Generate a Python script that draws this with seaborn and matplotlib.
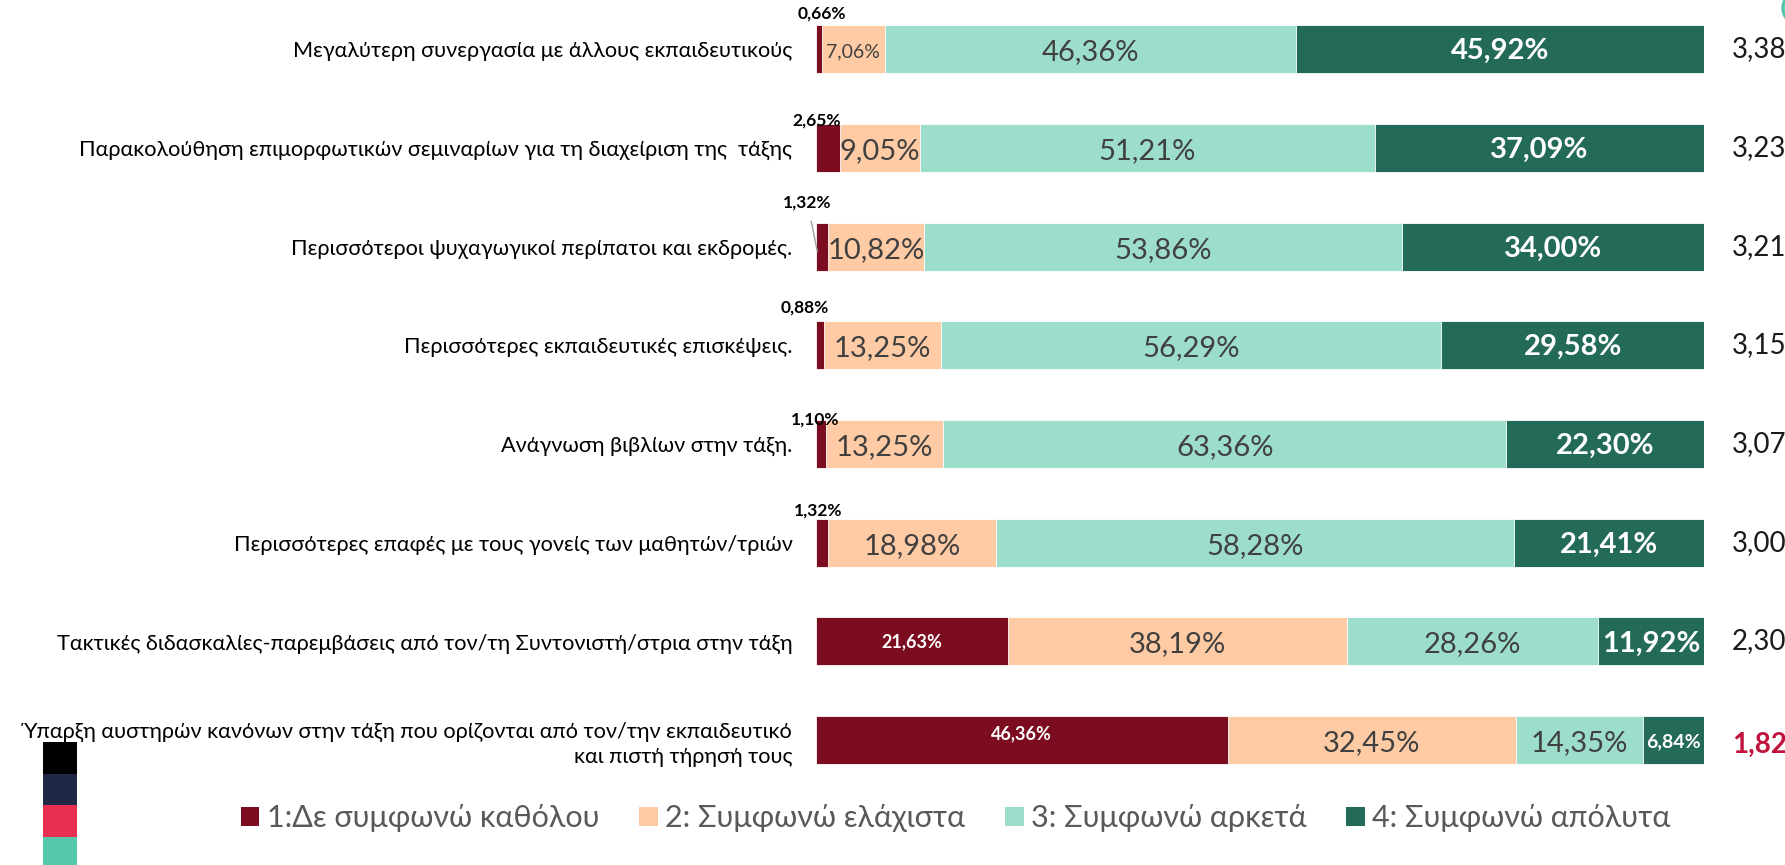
import numpy as np
import pandas as pd
import matplotlib
matplotlib.use("Agg")
import matplotlib.pyplot as plt
import seaborn as sns
from matplotlib.patches import Patch, Rectangle, Ellipse

# ---------------- data ----------------
items = [
    "Μεγαλύτερη συνεργασία με άλλους εκπαιδευτικούς",
    "Παρακολούθηση επιμορφωτικών σεμιναρίων για τη διαχείριση της  τάξης",
    "Περισσότεροι ψυχαγωγικοί περίπατοι και εκδρομές.",
    "Περισσότερες εκπαιδευτικές επισκέψεις.",
    "Ανάγνωση βιβλίων στην τάξη.",
    "Περισσότερες επαφές με τους γονείς των μαθητών/τριών",
    "Τακτικές διδασκαλίες-παρεμβάσεις από τον/τη Συντονιστή/στρια στην τάξη",
    "Ύπαρξη αυστηρών κανόνων στην τάξη που ορίζονται από τον/την εκπαιδευτικό\nκαι πιστή τήρησή τους",
]
not_at_all = [0.66, 2.65, 1.32, 0.88, 1.10, 1.32, 21.63, 46.36]
slightly = [7.06, 9.05, 10.82, 13.25, 13.25, 18.98, 38.19, 32.45]
fairly = [46.36, 51.21, 53.86, 56.29, 63.36, 58.28, 28.26, 14.35]
fully = [45.92, 37.09, 34.00, 29.58, 22.30, 21.41, 11.92, 6.84]
means = [3.38, 3.23, 3.21, 3.15, 3.07, 3.00, 2.30, 1.82]
legend_labels = ["1:Δε συμφωνώ καθόλου", "2: Συμφωνώ ελάχιστα",
                 "3: Συμφωνώ αρκετά", "4: Συμφωνώ απόλυτα"]

# ---------------- style ----------------
sns.set_theme(style="white")
plt.rcParams["font.family"] = ["Lato", "Noto Sans", "DejaVu Sans"]

colors = ["#7C0D20", "#FFCBA4", "#9CDDCC", "#236B58"]
text_gray = "#404040"

W, H = 1785, 865
fig = plt.figure(figsize=(W / 100, H / 100), dpi=100)
ax = fig.add_axes([816 / W, 75.6 / H, 888 / W, 789.4 / H])

series = [not_at_all, slightly, fairly, fully]
df = pd.DataFrame({"item": items})
for k, s in enumerate(series):
    df[f"c{k}"] = s
cum = np.cumsum(np.array(series), axis=0)
for k in range(4):
    df[f"cum{k}"] = cum[k]

# stacked bars: draw cumulative totals from the largest to the smallest
for k in [3, 2, 1, 0]:
    sns.barplot(data=df, x=f"cum{k}", y="item", orient="h", color=colors[k],
                saturation=1, width=0.486, edgecolor="white", linewidth=0.6,
                ax=ax)

ax.set_xlim(0, 100)
ax.set_ylim(7.5, -0.5)
ax.set_xlabel("")
ax.set_ylabel("")
ax.set_xticks([])
for sp in ax.spines.values():
    sp.set_visible(False)
ax.set_yticks(range(len(items)))
ax.set_yticklabels(items, fontsize=15.6, color="black")
for t in ax.get_yticklabels():
    t.set_linespacing(1.3)
ax.tick_params(axis="y", length=0, pad=17)


def fmt(v):
    return f"{v:.2f}".replace(".", ",") + "%"


# small first-category labels (placed above the bar), offsets in px
small_dx = [6, 1, -7, -11, -1, 2]
small_dy = [12, 4, 22, 14, 1, 8]
leader = [False, False, True, False, False, False]

half = 0.486 / 2
for r in range(len(items)):
    left = 0.0
    for k in range(4):
        v = series[k][r]
        cx = left + v / 2
        lab = fmt(v)
        if k == 0:
            if v < 5:
                dx, dy = small_dx[r] * 0.72, small_dy[r] * 0.72
                if leader[r]:
                    ax.annotate(lab, xy=(0.15, r + 0.05), xycoords="data",
                                xytext=(-7, 35),
                                textcoords="offset points", ha="center",
                                va="center", fontsize=12.5, fontweight="bold",
                                color="black", annotation_clip=False,
                                arrowprops=dict(arrowstyle="-", color="#A0A0A0",
                                                lw=1, shrinkA=5, shrinkB=0))
                else:
                    ax.annotate(lab, xy=(0, r - half), xycoords="data",
                                xytext=(dx, dy), textcoords="offset points",
                                ha="center", va="center", fontsize=12.5,
                                fontweight="bold", color="black",
                                annotation_clip=False)
            else:
                yy = r - 0.06 if v > 40 else r
                ax.text(cx, yy, lab, ha="center", va="center", fontsize=13,
                        fontweight="bold", color="white")
        elif k in (1, 2):
            fs = 14 if v < 8 else 21
            ax.text(cx, r + 0.03, lab, ha="center", va="center", fontsize=fs,
                    color=text_gray)
        else:
            fs = 14 if v < 8 else 21
            ax.text(cx, r + 0.02, lab, ha="center", va="center", fontsize=fs,
                    fontweight="bold", color="white")
        left += v

    m = means[r]
    mtxt = f"{m:.2f}".replace(".", ",")
    if m < 2:
        ax.text(103.15, r + 0.05, mtxt, ha="left", va="center", fontsize=20,
                fontweight="bold", color="#C0143C", clip_on=False)
    else:
        ax.text(103.15, r, mtxt, ha="left", va="center", fontsize=20,
                color="#1A1A1A", clip_on=False)

# legend
handles = [Patch(facecolor=c, edgecolor="none") for c in colors]
fig.legend(handles, legend_labels, loc="center",
           bbox_to_anchor=(956 / W, 1 - 818 / H), ncol=4, frameon=False,
           fontsize=22, labelcolor="#595959", handlelength=0.6,
           handleheight=0.6, handletextpad=0.25, columnspacing=1.3)

# decorative colour blocks at the lower left
blocks = [(742, 774, "#000000"), (774, 805, "#212746"),
          (805, 837, "#E92E52"), (837, 866, "#55C8AC")]
for y0, y1, c in blocks:
    fig.add_artist(Rectangle((43 / W, 1 - y1 / H), 34 / W, (y1 - y0) / H,
                             transform=fig.transFigure, facecolor=c,
                             edgecolor="none"))
fig.add_artist(Ellipse((1800 / W, 1 - 8 / H), 34 / W, 34 / H,
                       transform=fig.transFigure, facecolor="none",
                       edgecolor="#55C8AC", lw=2.5))

fig.savefig("out.png", dpi=100, facecolor="white")
